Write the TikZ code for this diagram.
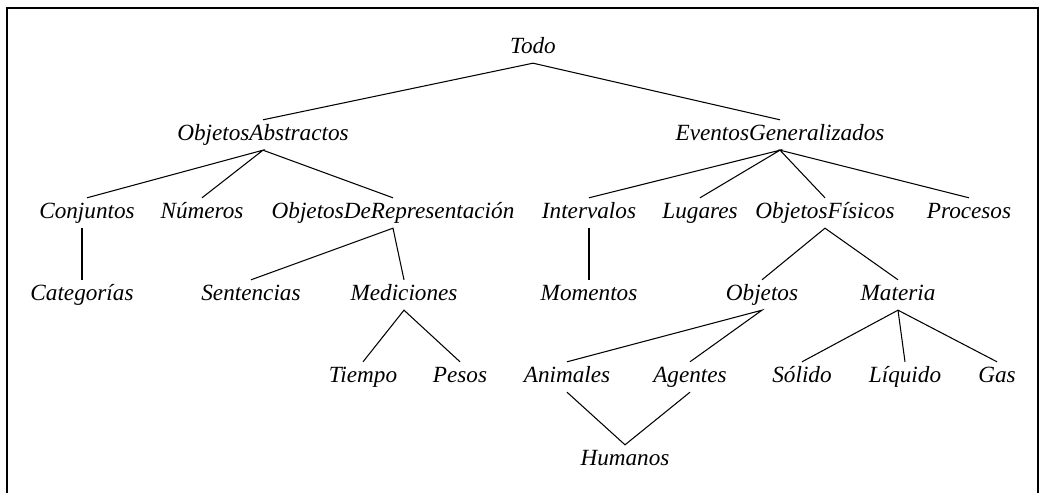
\documentclass[tikz,border=0pt]{standalone}
\usepackage{fontspec}
\setmainfont{Liberation Serif}
\usepackage{tikz}
\usetikzlibrary{positioning, calc}
\tikzset{
  term/.style={font=\fontsize{11}{13}\selectfont\itshape, inner xsep=1pt,
               inner ysep=2.5pt, text height=7pt, text depth=2pt},
  branch/.style={draw=black, line width=0.5pt},
  frame/.style={draw=black, line width=0.7pt},
}

\begin{document}
\begin{tikzpicture}[x=0.016667cm, y=-0.016667cm]
  \useasboundingbox (0,0) rectangle (1042,493);

  % Frame (open at the bottom)
  \draw[frame] (7,493) -- (7,8) -- (1038,8) -- (1038,493);

  % Root and first level
  \node[term] (todo) at (533,48) {Todo};
  \node[term] (abs) at (263,135) {ObjetosAbstractos};
  \node[term] (evt) at (780,135) {EventosGeneralizados};

  % Second level
  \node[term] (conj) at (87,213) {Conjuntos};
  \node[term] (num) at (202,213) {Números};
  \node[term] (rep) at (393,213) {ObjetosDeRepresentación};
  \node[term] (intv) at (589,213) {Intervalos};
  \node[term] (lug) at (700,213) {Lugares};
  \node[term] (fis) at (825,213) {ObjetosFísicos};
  \node[term] (proc) at (969,213) {Procesos};

  % Third level
  \node[term] (cat) at (82,295) {Categorías};
  \node[term] (sent) at (251,295) {Sentencias};
  \node[term] (med) at (404,295) {Mediciones};
  \node[term] (mom) at (589,295) {Momentos};
  \node[term] (obj) at (762,295) {Objetos};
  \node[term] (mat) at (898,295) {Materia};

  % Fourth level
  \node[term] (tie) at (363,377) {Tiempo};
  \node[term] (pes) at (460,377) {Pesos};
  \node[term] (ani) at (567,377) {Animales};
  \node[term] (age) at (690,377) {Agentes};
  \node[term] (sol) at (802,377) {Sólido};
  \node[term] (liq) at (905,377) {Líquido};
  \node[term] (gas) at (997,377) {Gas};

  \node[term] (hum) at (625,460) {Humanos};

  % Branches
  \draw[branch] (abs.north) -- (todo.south) -- (evt.north);
  \draw[branch] (conj.north) -- (abs.south) -- (num.north);
  \draw[branch] (abs.south) -- (rep.north);
  \draw[branch] (intv.north) -- (evt.south) -- (lug.north);
  \draw[branch] (fis.north) -- (evt.south) -- (proc.north);
  \draw[branch] (cat.north |- conj.south) -- (cat.north);
  \draw[branch] (sent.north) -- (rep.south) -- (med.north);
  \draw[branch] (intv.south) -- (mom.north);
  \draw[branch] (obj.north) -- (fis.south) -- (mat.north);
  \draw[branch] (tie.north) -- (med.south) -- (pes.north);
  \draw[branch] (ani.north) -- (obj.south) -- (age.north);
  \draw[branch] (sol.north) -- (mat.south) -- (gas.north);
  \draw[branch] (mat.south) -- (liq.north);
  \draw[branch] (ani.south) -- (hum.north) -- (age.south);
\end{tikzpicture}
\end{document}
